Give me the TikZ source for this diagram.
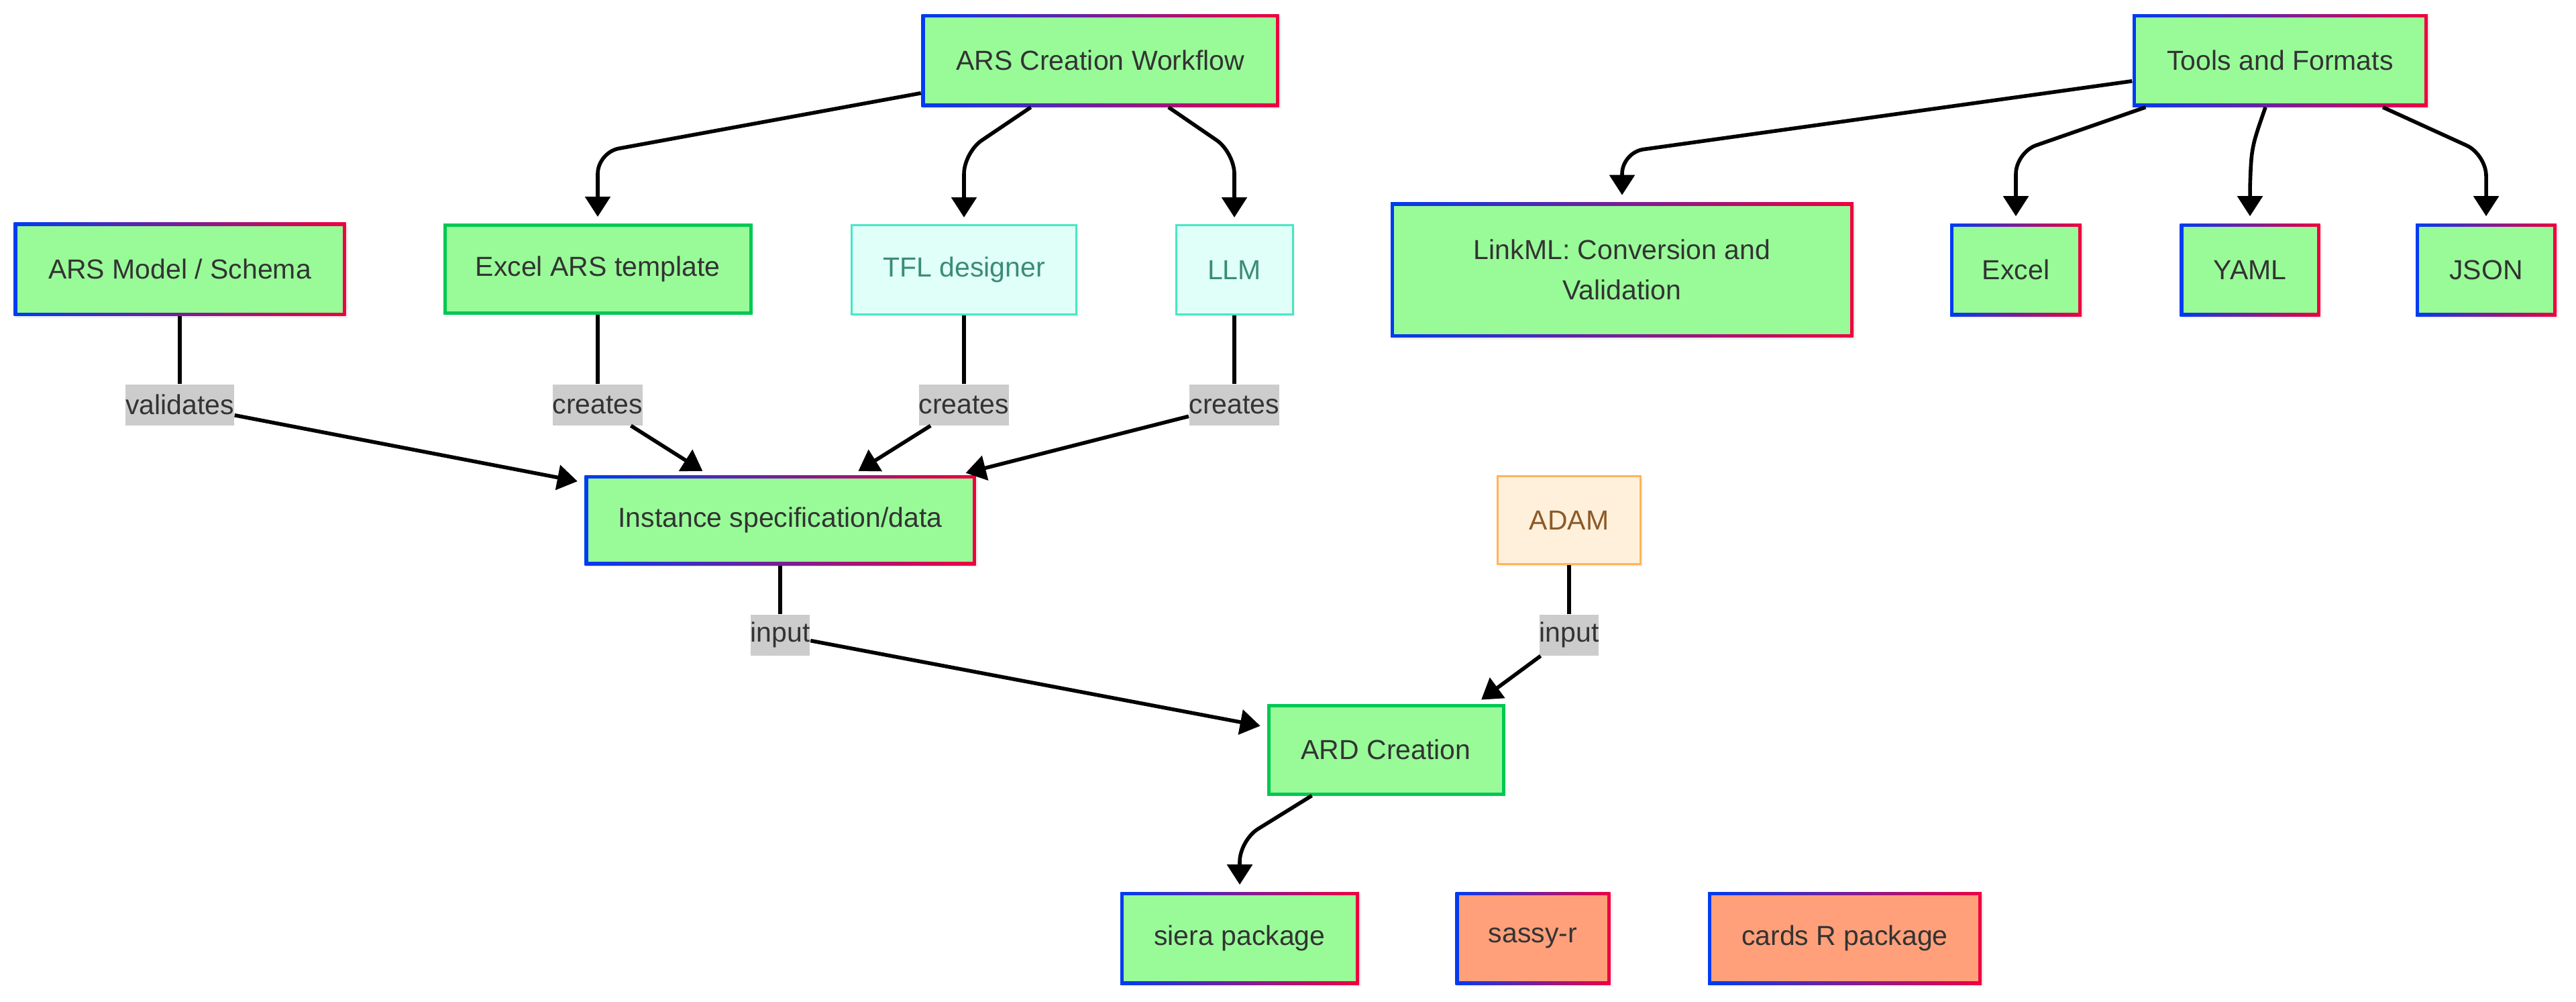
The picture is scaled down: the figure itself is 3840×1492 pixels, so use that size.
\documentclass[tikz,border=0pt]{standalone}
\usepackage{fontspec}
\setmainfont{Liberation Sans}
\usetikzlibrary{arrows.meta,calc,shadows}
\definecolor{txt}{RGB}{51,51,51}
\definecolor{greenfill}{RGB}{152,251,152}
\definecolor{greenborder}{RGB}{0,200,83}
\definecolor{salmonfill}{RGB}{255,160,122}
\definecolor{gblue}{RGB}{0,60,240}
\definecolor{gred}{RGB}{240,0,64}
\definecolor{mintfill}{RGB}{224,255,248}
\definecolor{mintborder}{RGB}{72,230,196}
\definecolor{minttext}{RGB}{58,140,118}
\definecolor{peachfill}{RGB}{255,240,219}
\definecolor{peachborder}{RGB}{255,180,90}
\definecolor{peachtext}{RGB}{140,90,40}
\definecolor{lblgray}{RGB}{204,204,204}
\begin{document}
\begin{tikzpicture}[x=0.25pt,y=-0.25pt,
  base/.style={rectangle, inner sep=0pt, align=center,
    font=\fontsize{10.25}{15}\selectfont, text=txt,
    drop shadow={opacity=0.12, shadow xshift=0.8pt, shadow yshift=-0.8pt}},
  grad/.style={base, left color=gblue, right color=gred,
    path picture={\fill[#1] ($(path picture bounding box.south west)+(1.25pt,1.25pt)$) rectangle ($(path picture bounding box.north east)+(-1.25pt,-1.25pt)$);}},
  solidg/.style={base, fill=greenfill, draw=greenborder, line width=1.25pt},
  mintbox/.style={base, fill=mintfill, draw=mintborder, line width=0.75pt, text=minttext},
  peachbox/.style={base, fill=peachfill, draw=peachborder, line width=0.75pt, text=peachtext},
  lbl/.style={rectangle, fill=lblgray, inner xsep=0pt, inner ysep=0pt, minimum height=15.25pt,
    font=\fontsize{10.25}{15}\selectfont, text=txt},
  edge/.style={line width=1.4pt, black},
  arr/.style={edge, -{Triangle[length=7.5pt,width=9.25pt]}, shorten >=2.5pt},
]
\useasboundingbox (0,0) rectangle (3840,1492);

% nodes
\node[grad=greenfill, minimum width=133.25pt, minimum height=34.5pt] (acw) at (1640,90) {ARS Creation Workflow};
\node[grad=greenfill, minimum width=110pt, minimum height=34.5pt] (tools) at (3399,90) {Tools and Formats};
\node[grad=greenfill, minimum width=123.75pt, minimum height=34.75pt] (ars) at (268,401) {ARS Model / Schema};
\node[solidg, minimum width=114pt, minimum height=32.75pt] (exars) at (891,401) {Excel ARS template};
\node[mintbox, minimum width=83.75pt, minimum height=33.25pt] (tfl) at (1437,402) {TFL designer};
\node[mintbox, minimum width=43.5pt, minimum height=33.25pt] (llm) at (1840,402) {LLM};
\node[grad=greenfill, minimum width=172.5pt, minimum height=50.25pt] (linkml) at (2418,402) {LinkML: Conversion and\\Validation};
\node[grad=greenfill, minimum width=49pt, minimum height=34.5pt] (excel) at (3005,402) {Excel};
\node[grad=greenfill, minimum width=52.25pt, minimum height=34.5pt] (yaml) at (3354,402) {YAML};
\node[grad=greenfill, minimum width=52.5pt, minimum height=34.5pt] (json) at (3706,402) {JSON};
\node[grad=greenfill, minimum width=145.75pt, minimum height=33.5pt] (inst) at (1163,775) {Instance specification/data};
\node[peachbox, minimum width=53.25pt, minimum height=32.75pt] (adam) at (2339,775) {ADAM};
\node[solidg, minimum width=87.5pt, minimum height=33pt] (ard) at (2066,1117) {ARD Creation};
\node[grad=greenfill, minimum width=89pt, minimum height=34.5pt] (siera) at (1848,1398) {siera package};
\node[grad=salmonfill, minimum width=57.75pt, minimum height=34.5pt] (sassy) at (2285,1398) {sassy-r};
\node[grad=salmonfill, minimum width=102pt, minimum height=34.5pt] (cards) at (2750,1398) {cards R package};

% edge labels
\node[lbl] (l1) at (268,603) {validates};
\node[lbl] (l2) at (891,603) {creates};
\node[lbl] (l3) at (1437,603) {creates};
\node[lbl] (l4) at (1840,603) {creates};
\node[lbl] (l5) at (1163,946) {input};
\node[lbl] (l6) at (2339,946) {input};

% edges
\draw[arr, rounded corners=8pt] (acw) -- (891,227) -- (exars);
\draw[arr, rounded corners=8pt] (acw) -- (1437,227) -- (tfl);
\draw[arr, rounded corners=8pt] (acw) -- (1840,227) -- (llm);
\draw[arr, rounded corners=8pt] (tools) -- (2418,227) -- (linkml);
\draw[arr, rounded corners=8pt] (tools) -- (3005,227) -- (excel);
\draw[arr] ([xshift=-5.5pt]tools.south) .. controls (3356,220) .. (3354,280) -- (yaml);
\draw[arr, rounded corners=8pt] (tools) -- (3706,230) -- (json);

\draw[edge] (ars) -- (l1);
\draw[arr] (l1) -- (inst);
\draw[edge] (exars) -- (l2);
\draw[arr] (l2) -- (inst);
\draw[edge] (tfl) -- (l3);
\draw[arr] (l3) -- (inst);
\draw[edge] (llm) -- (l4);
\draw[arr] (l4) -- (inst);
\draw[edge] (inst) -- (l5);
\draw[arr] (l5) -- (ard);
\draw[edge] (adam) -- (l6);
\draw[arr] (l6) -- ([xshift=33.5pt]ard.north);
\draw[arr, rounded corners=8pt] (ard) -- (1848,1252) -- (siera);
\end{tikzpicture}
\end{document}
